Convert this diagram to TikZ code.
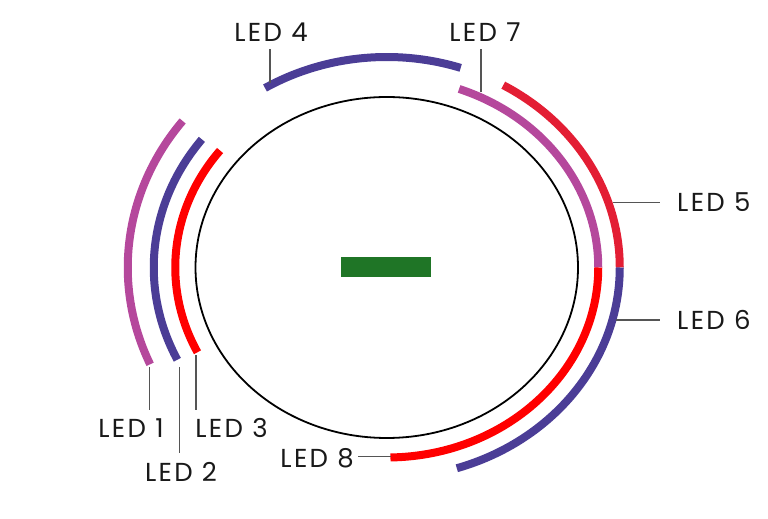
\documentclass[tikz,border=0pt]{standalone}
\usepackage{fontspec}
\setmainfont{Poppins}[LetterSpace=9]
\usetikzlibrary{calc}
\definecolor{ledmag}{HTML}{B5489C}
\definecolor{ledblue}{HTML}{4B3D96}
\definecolor{ledred}{HTML}{FF0000}
\definecolor{ledcrim}{HTML}{E31E34}
\definecolor{pcbgreen}{HTML}{1F7526}
\definecolor{leadgray}{HTML}{555555}
\tikzset{
  ledarc/.style={line width=8pt, line cap=butt},
  leader/.style={draw=leadgray, line width=1.3pt},
  lbl/.style={inner sep=0pt, font=\fontsize{26}{30}\selectfont, text=black!90},
}
\begin{document}
\begin{tikzpicture}[x=1pt,y=1pt]
\useasboundingbox (0,0) rectangle (768,519);
\coordinate (c) at (386.75,251.5);
% board
\draw[black, line width=1.8pt] (c) ellipse [x radius=191.25, y radius=170.5];
\node[fill=pcbgreen, draw=none, minimum width=90pt, minimum height=20pt, inner sep=0pt] (chip) at (386,252) {};
% rings: inner a=211.5 b=190 ; outer a=233 b=210.5 ; outermost a=259 b=238
% LED 1 outermost magenta
\draw[ledarc, ledmag] ($(c)+({259*cos(142)},{238*sin(142)})$) arc[start angle=142, end angle=204, x radius=259, y radius=238] coordinate (e1);
% LED 2 outer blue
\draw[ledarc, ledblue] ($(c)+({233*cos(142.5)},{210.5*sin(142.5)})$) arc[start angle=142.5, end angle=206, x radius=233, y radius=210.5] coordinate (e2);
% LED 3 inner red
\draw[ledarc, ledred] ($(c)+({211.5*cos(142)},{190*sin(142)})$) arc[start angle=142, end angle=206.5, x radius=211.5, y radius=190] coordinate (e3);
% LED 4 outer blue top
\draw[ledarc, ledblue] ($(c)+({233*cos(71.5)},{210.5*sin(71.5)})$) arc[start angle=71.5, end angle=121.5, x radius=233, y radius=210.5];
% LED 7 inner magenta
\draw[ledarc, ledmag] ($(c)+({211.5*cos(0)},{190*sin(0)})$) arc[start angle=0, end angle=70, x radius=211.5, y radius=190];
% LED 5 outer crimson
\draw[ledarc, ledcrim] ($(c)+({233*cos(0)},{210.5*sin(0)})$) arc[start angle=0, end angle=60, x radius=233, y radius=210.5];
% LED 8 inner red
\draw[ledarc, ledred] ($(c)+({211.5*cos(-89)},{190*sin(-89)})$) coordinate (e8) arc[start angle=-89, end angle=0, x radius=211.5, y radius=190];
% LED 6 outer blue
\draw[ledarc, ledblue] ($(c)+({233*cos(-72.5)},{210.5*sin(-72.5)})$) arc[start angle=-72.5, end angle=0, x radius=233, y radius=210.5];
% leader end points
\coordinate (p1a) at (149.3,152);   \coordinate (p1b) at (149.3,109);
\coordinate (p2a) at (179.3,152);   \coordinate (p2b) at (179.3,66.3);
\coordinate (p3a) at (196,164);     \coordinate (p3b) at (196,109);
\coordinate (p8a) at (391,62.3);    \coordinate (p8b) at (358,62.3);
\coordinate (p4a) at (270,436);     \coordinate (p4b) at (270,470);
\coordinate (p7a) at (481,427.3);   \coordinate (p7b) at (481,470);
\coordinate (p5a) at (613,316.3);   \coordinate (p5b) at (660,316.3);
\coordinate (p6a) at (616,199);     \coordinate (p6b) at (660,199);
% labels
\node[lbl] (t1) at (131,91) {LED 1};
\node[lbl] (t2) at (181,47.5) {LED 2};
\node[lbl] (t3) at (231.5,91) {LED 3};
\node[lbl, anchor=east] (t8) at (354,61) {LED 8};
\node[lbl] (t4) at (271,487) {LED 4};
\node[lbl] (t7) at (485,487) {LED 7};
\node[lbl, anchor=west] (t5) at (677,316.5) {LED 5};
\node[lbl, anchor=west] (t6) at (677,199) {LED 6};
% leaders
\draw[leader] (p1a) -- (p1b);
\draw[leader] (p2a) -- (p2b);
\draw[leader] (p3a) -- (p3b);
\draw[leader] (p8a) -- (p8b);
\draw[leader] (p4a) -- (p4b);
\draw[leader] (p7a) -- (p7b);
\draw[leader] (p5a) -- (p5b);
\draw[leader] (p6a) -- (p6b);
\end{tikzpicture}
\end{document}
